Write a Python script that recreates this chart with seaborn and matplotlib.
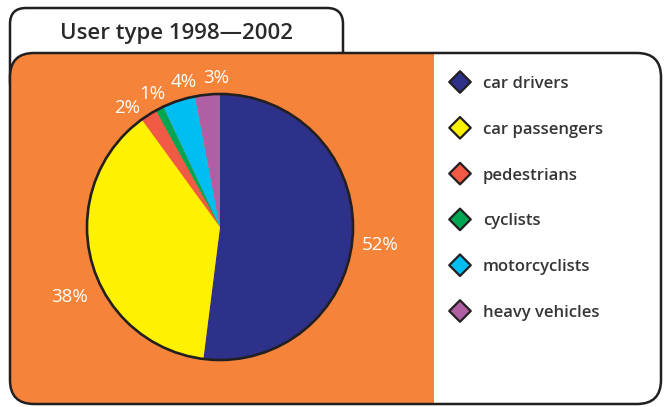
import numpy as np
import matplotlib
matplotlib.use("Agg")
import matplotlib.pyplot as plt
import seaborn as sns
import pandas as pd
from matplotlib.patches import FancyBboxPatch, Rectangle, Circle

# ---- data ----
title = "User type 1998\u20142002"
categories = ["car drivers", "car passengers", "pedestrians", "cyclists",
              "motorcyclists", "heavy vehicles"]
shares = [52, 38, 2, 1, 4, 3]
pct_labels = ["52%", "38%", "2%", "1%", "4%", "3%"]
colors = ["#2E3189", "#FFF200", "#F15A45", "#00A651", "#00BEF2", "#B05FA5"]

# ---- style ----
sns.set_theme(style="white")
plt.rcParams["font.family"] = ["Open Sans", "DejaVu Sans"]
DARK = "#231F20"
TEXT = "#2B2A2A"
LEGTEXT = "#363435"
ORANGE = "#F5843A"
W, H = 666, 407

fig = plt.figure(figsize=(W / 100, H / 100), dpi=100)
bg = fig.add_axes([0, 0, 1, 1])
bg.set_xlim(0, W)
bg.set_ylim(H, 0)
bg.axis("off")

lw = 1.8
# tab
tab = FancyBboxPatch((10, 8), 333, 90, boxstyle="round,pad=0,rounding_size=16",
                     facecolor="white", edgecolor=DARK, linewidth=lw, zorder=1)
bg.add_patch(tab)
bg.text(176, 39, title, ha="center", va="baseline", fontsize=16,
        fontweight="semibold", color=TEXT, zorder=5)

# main frame
main = FancyBboxPatch((10, 53), 651, 351, boxstyle="round,pad=0,rounding_size=24",
                      facecolor="white", edgecolor="none", zorder=2)
bg.add_patch(main)
orange = Rectangle((0, 40), 434, 380, facecolor=ORANGE, edgecolor="none", zorder=3)
bg.add_patch(orange)
orange.set_clip_path(main)
outline = FancyBboxPatch((10, 53), 651, 351, boxstyle="round,pad=0,rounding_size=24",
                         facecolor="none", edgecolor=DARK, linewidth=lw, zorder=4)
bg.add_patch(outline)

# legend (diamonds drawn with seaborn)
leg_x, leg_y0, leg_dy = 460, 82, 45.8
leg_df = pd.DataFrame({
    "category": categories,
    "x": [leg_x] * len(categories),
    "y": [leg_y0 + i * leg_dy for i in range(len(categories))],
})
sns.scatterplot(data=leg_df, x="x", y="y", hue="category", hue_order=categories,
                palette=colors, marker="D", s=120, edgecolor=DARK, linewidth=1.6,
                legend=False, ax=bg, zorder=6)
bg.set_xlim(0, W)
bg.set_ylim(H, 0)
bg.set_xlabel("")
bg.set_ylabel("")
for _, row in leg_df.iterrows():
    bg.text(row["x"] + 23, row["y"] + 6, row["category"], ha="left",
            va="baseline", fontsize=12, fontweight="semibold", color=LEGTEXT, zorder=6)

# pie
cx, cy, r = 220, 227, 133
pie_ax = fig.add_axes([(cx - r) / W, (H - cy - r) / H, 2 * r / W, 2 * r / H])
wedges, _ = pie_ax.pie(shares, colors=colors, startangle=90, counterclock=False,
                       wedgeprops=dict(linewidth=0, edgecolor="none"))
pie_ax.add_patch(Circle((0, 0), 1, facecolor="none", edgecolor=DARK, linewidth=1.9,
                        clip_on=False, zorder=5))
pie_ax.set_xlim(-1, 1)
pie_ax.set_ylim(-1, 1)
pie_ax.set_aspect("equal")
pie_ax.axis("off")

angle_nudge = [-2.8, 10.6, 5.6, 0.0, -4.0, -3.9]
label_r = [1.21, 1.245, 1.135, 1.12, 1.12, 1.12]
for w, lab, dn, rr in zip(wedges, pct_labels, angle_nudge, label_r):
    mid = np.deg2rad((w.theta1 + w.theta2) / 2 + dn)
    pie_ax.text(rr * np.cos(mid), rr * np.sin(mid), lab, ha="center", va="center",
                fontsize=13.5, color="white", fontweight="normal", clip_on=False)

fig.savefig("out.png", dpi=100)
